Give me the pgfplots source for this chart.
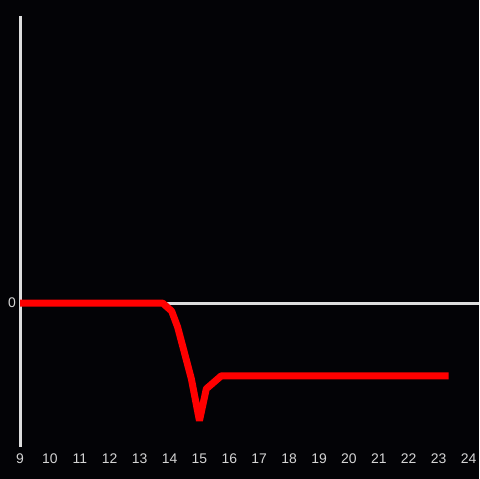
\documentclass[border=0pt]{standalone}
\usepackage{pgfplots}
\pgfplotsset{compat=1.18}
\usepackage{fontspec}
\setmainfont{Liberation Sans}
\definecolor{bg}{HTML}{030306}
\definecolor{ax}{HTML}{DDDDDD}
\definecolor{lbl}{HTML}{D4D4D4}
\begin{document}
\begin{tikzpicture}
\begin{axis}[
  scale only axis, width=480pt, height=480pt,
  xmin=8.3333, xmax=24.3333, ymin=-176, ymax=304,
  clip=false,
  axis line style={draw=none},
  major tick length=0pt,
  xtick={9,10,...,24},
  ytick={0},
  /pgf/number format/assume math mode=true,
  tick label style={font=\fontsize{14}{16}\selectfont, text=lbl},
  xticklabel style={anchor=center, yshift=20pt},
  yticklabel style={anchor=center, xshift=12pt},
  axis background/.style={fill=bg},
]
\addplot[ax, line width=3pt, forget plot] coordinates {(9,-144) (9,288)};
\addplot[ax, line width=3pt, forget plot] coordinates {(9,0) (24.3333,0)};
\addplot[red, line width=7pt, line join=bevel, forget plot] coordinates {
(9,0) (13.77,0) (14.07,-8) (14.27,-24) (14.73,-76) (15.0,-118) (15.23,-86) (15.73,-73) (23.33,-73)
};
\end{axis}
\end{tikzpicture}
\end{document}
